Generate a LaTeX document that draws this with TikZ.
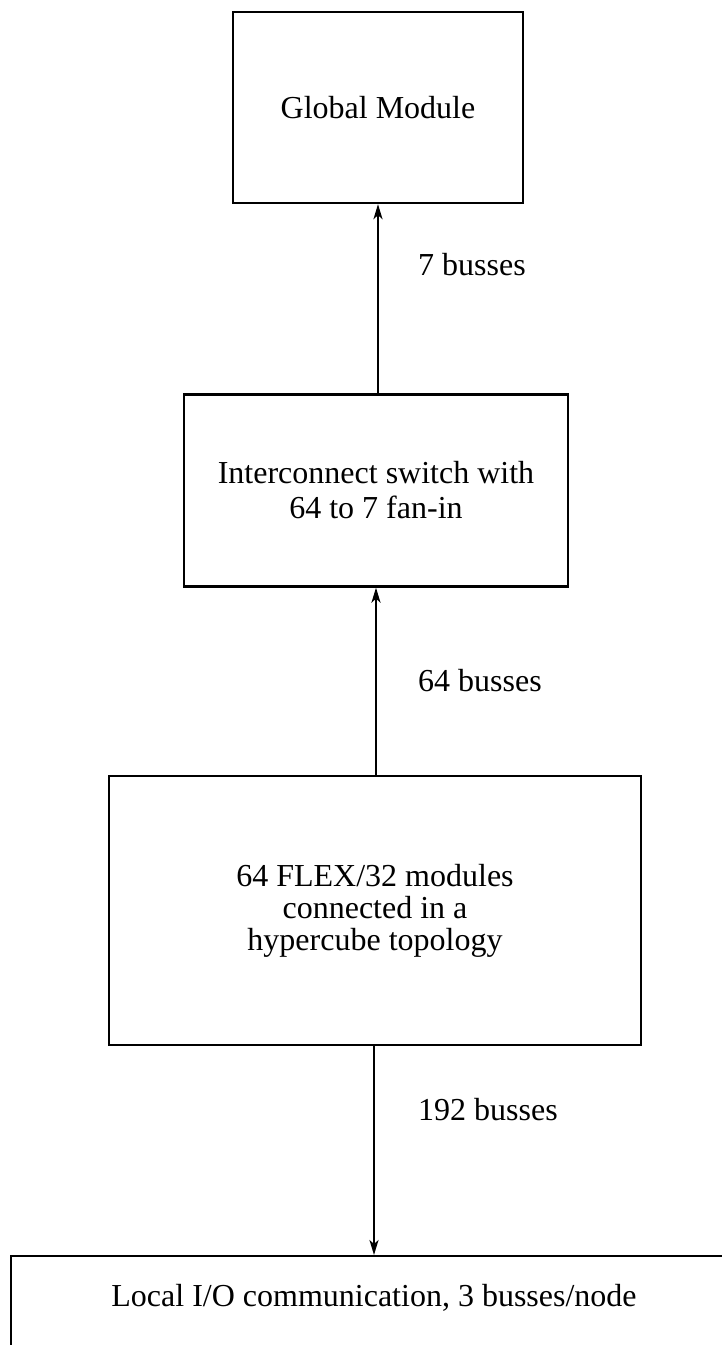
\documentclass[tikz,border=0pt]{standalone}
\usepackage{fontspec}
\setmainfont{Liberation Serif}
\usetikzlibrary{arrows.meta}
\begin{document}
\begin{tikzpicture}[x=1pt,y=-1pt,
  box/.style={draw=black,line width=2.3pt,inner sep=0pt,font=\fontsize{32}{35}\selectfont,align=center},
  lbl/.style={inner sep=0pt,font=\fontsize{32}{35}\selectfont,anchor=west},
  conn/.style={line width=2pt,-{Stealth[length=15pt,width=9pt,inset=4pt]}}]
\useasboundingbox (0,0) rectangle (722,1345);
\clip (0,0) rectangle (722,1345);
\fill[white] (0,0) rectangle (722,1345);
\node[box,minimum width=290pt,minimum height=191pt] (gm) at (378,107.5) {Global Module};
\node[box,minimum width=384pt,minimum height=192pt] (sw) at (376,490.5) {Interconnect switch with\\64 to 7 fan-in};
\node[box,minimum width=532pt,minimum height=269pt,font=\fontsize{32}{32}\selectfont] (flex) at (375,910.5) {64 FLEX/32 modules\\connected in a\\hypercube topology};
\node[box,anchor=north west,minimum width=760pt,minimum height=200pt] (io) at (10,1255) {};
\node[inner sep=0pt,font=\fontsize{32}{35}\selectfont] (iotxt) at (374,1298) {Local I/O communication, 3 busses/node};
\draw[conn] (sw.north -| gm.south) -- (gm.south);
\draw[conn] (flex.north -| sw.south) -- (sw.south);
\coordinate (c3) at (374,1045);
\draw[conn] (flex.south -| c3) -- (io.north -| c3);
\node[lbl] (l1) at (418,265) {7 busses};
\node[lbl] (l2) at (418,681) {64 busses};
\node[lbl] (l3) at (418,1110) {192 busses};
\end{tikzpicture}
\end{document}
